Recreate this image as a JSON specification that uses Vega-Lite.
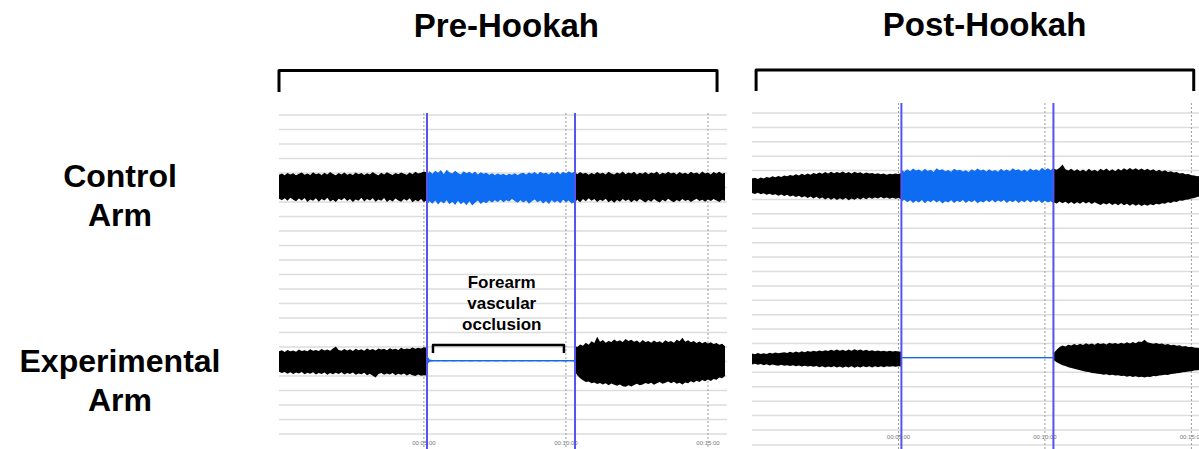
{
  "$schema": "https://vega.github.io/schema/vega-lite/v6.json",
  "padding": 0,
  "spacing": 25,
  "bounds": "flush",
  "background": "white",
  "config": {"view": {"stroke": null}, "font": "Liberation Sans"},
  "datasets": {
    "pre": [
      {"sg":"a","t":-0.1,"ch":17.88,"cl":16.22,"eh":5.7,"el":4.3},
      {"sg":"a","t":0.0,"ch":17.96,"cl":16.12,"eh":5.78,"el":4.2},
      {"sg":"a","t":0.1,"ch":17.85,"cl":16.26,"eh":5.66,"el":4.28},
      {"sg":"a","t":0.2,"ch":18.0,"cl":16.08,"eh":5.8,"el":4.16},
      {"sg":"a","t":0.3,"ch":17.9,"cl":16.3,"eh":5.7,"el":4.26},
      {"sg":"a","t":0.4,"ch":17.98,"cl":16.15,"eh":5.76,"el":4.14},
      {"sg":"a","t":0.5,"ch":17.84,"cl":16.05,"eh":5.68,"el":4.24},
      {"sg":"a","t":0.6,"ch":17.95,"cl":16.24,"eh":5.82,"el":4.18},
      {"sg":"a","t":0.7,"ch":18.04,"cl":16.1,"eh":5.72,"el":4.28},
      {"sg":"a","t":0.8,"ch":17.88,"cl":16.28,"eh":5.78,"el":4.12},
      {"sg":"a","t":0.9,"ch":17.97,"cl":16.0,"eh":5.7,"el":4.22},
      {"sg":"a","t":1.0,"ch":17.86,"cl":16.18,"eh":5.84,"el":4.16},
      {"sg":"a","t":1.1,"ch":18.05,"cl":16.08,"eh":5.74,"el":4.26},
      {"sg":"a","t":1.2,"ch":17.92,"cl":16.26,"eh":5.8,"el":4.1},
      {"sg":"a","t":1.3,"ch":17.99,"cl":16.02,"eh":5.72,"el":4.2},
      {"sg":"a","t":1.4,"ch":17.87,"cl":16.2,"eh":5.86,"el":4.14},
      {"sg":"a","t":1.5,"ch":18.02,"cl":16.1,"eh":5.76,"el":4.24},
      {"sg":"a","t":1.6,"ch":17.9,"cl":16.3,"eh":5.82,"el":4.08},
      {"sg":"a","t":1.7,"ch":18.06,"cl":16.04,"eh":5.74,"el":4.2},
      {"sg":"a","t":1.8,"ch":17.93,"cl":16.16,"eh":5.9,"el":4.12},
      {"sg":"a","t":1.9,"ch":17.85,"cl":16.0,"eh":6.04,"el":4.22},
      {"sg":"a","t":2.0,"ch":18.0,"cl":16.22,"eh":5.8,"el":4.14},
      {"sg":"a","t":2.1,"ch":17.9,"cl":16.12,"eh":5.74,"el":4.26},
      {"sg":"a","t":2.2,"ch":18.03,"cl":16.28,"eh":5.86,"el":4.1},
      {"sg":"a","t":2.3,"ch":17.88,"cl":16.06,"eh":5.76,"el":4.2},
      {"sg":"a","t":2.4,"ch":17.97,"cl":16.2,"eh":5.84,"el":4.14},
      {"sg":"a","t":2.5,"ch":17.86,"cl":16.0,"eh":5.72,"el":4.24},
      {"sg":"a","t":2.6,"ch":18.04,"cl":16.18,"eh":5.88,"el":4.08},
      {"sg":"a","t":2.7,"ch":17.92,"cl":16.08,"eh":5.78,"el":4.18},
      {"sg":"a","t":2.8,"ch":18.0,"cl":16.3,"eh":5.84,"el":4.12},
      {"sg":"a","t":2.9,"ch":17.87,"cl":16.04,"eh":5.74,"el":4.22},
      {"sg":"a","t":3.0,"ch":17.98,"cl":16.2,"eh":5.9,"el":4.06},
      {"sg":"a","t":3.1,"ch":17.9,"cl":16.1,"eh":5.8,"el":4.16},
      {"sg":"a","t":3.2,"ch":18.06,"cl":16.26,"eh":5.86,"el":4.02},
      {"sg":"a","t":3.3,"ch":17.93,"cl":16.02,"eh":5.76,"el":3.9},
      {"sg":"a","t":3.4,"ch":17.85,"cl":16.18,"eh":5.9,"el":4.14},
      {"sg":"a","t":3.5,"ch":18.02,"cl":16.08,"eh":5.82,"el":4.2},
      {"sg":"a","t":3.6,"ch":17.9,"cl":16.28,"eh":5.88,"el":4.08},
      {"sg":"a","t":3.7,"ch":18.05,"cl":16.0,"eh":5.78,"el":4.18},
      {"sg":"a","t":3.8,"ch":17.94,"cl":16.15,"eh":5.92,"el":4.1},
      {"sg":"a","t":3.9,"ch":17.86,"cl":16.04,"eh":5.82,"el":4.2},
      {"sg":"a","t":4.0,"ch":18.0,"cl":16.24,"eh":5.88,"el":4.06},
      {"sg":"a","t":4.1,"ch":17.91,"cl":16.1,"eh":5.8,"el":4.16},
      {"sg":"a","t":4.2,"ch":18.04,"cl":16.02,"eh":5.94,"el":4.08},
      {"sg":"a","t":4.3,"ch":17.95,"cl":16.2,"eh":5.84,"el":4.18},
      {"sg":"a","t":4.4,"ch":17.88,"cl":16.08,"eh":5.9,"el":4.04},
      {"sg":"a","t":4.5,"ch":18.03,"cl":16.26,"eh":5.86,"el":4.14},
      {"sg":"a","t":4.6,"ch":17.92,"cl":15.98,"eh":5.96,"el":4.06},
      {"sg":"a","t":4.7,"ch":18.08,"cl":16.14,"eh":5.88,"el":4.0},
      {"sg":"a","t":4.8,"ch":17.96,"cl":16.04,"eh":5.94,"el":4.1},
      {"sg":"a","t":4.9,"ch":18.02,"cl":16.2,"eh":5.9,"el":4.02},
      {"sg":"a","t":5.0,"ch":18.1,"cl":16.0,"eh":5.98,"el":4.06},
      {"sg":"a","t":5.1,"ch":18.05,"cl":16.12,"eh":5.94,"el":4.04},
      {"sg":"a","t":5.11,"ch":18.08,"cl":16.05,"eh":5.92,"el":4.06},
      {"sg":"b","t":5.11,"ch":18.1,"cl":16.0,"eh":5.08,"el":4.98},
      {"sg":"b","t":5.15,"ch":18.0,"cl":15.92,"eh":5.3,"el":4.88},
      {"sg":"b","t":5.2,"ch":18.12,"cl":16.05,"eh":5.14,"el":4.98},
      {"sg":"b","t":5.3,"ch":17.95,"cl":15.88,"eh":5.1,"el":5.0},
      {"sg":"b","t":5.4,"ch":18.15,"cl":16.1,"eh":5.1,"el":5.01},
      {"sg":"b","t":5.5,"ch":18.02,"cl":15.82,"eh":5.1,"el":5.0},
      {"sg":"b","t":5.6,"ch":18.2,"cl":16.05,"eh":5.1,"el":5.01},
      {"sg":"b","t":5.7,"ch":17.92,"cl":15.9,"eh":5.1,"el":5.0},
      {"sg":"b","t":5.8,"ch":18.22,"cl":16.12,"eh":5.1,"el":5.0},
      {"sg":"b","t":5.9,"ch":18.05,"cl":15.85,"eh":5.11,"el":5.01},
      {"sg":"b","t":6.0,"ch":17.96,"cl":16.02,"eh":5.1,"el":5.0},
      {"sg":"b","t":6.1,"ch":18.16,"cl":15.8,"eh":5.1,"el":5.0},
      {"sg":"b","t":6.2,"ch":18.0,"cl":16.08,"eh":5.1,"el":5.01},
      {"sg":"b","t":6.3,"ch":17.9,"cl":15.84,"eh":5.1,"el":5.0},
      {"sg":"b","t":6.4,"ch":18.12,"cl":16.0,"eh":5.1,"el":5.0},
      {"sg":"b","t":6.5,"ch":17.98,"cl":15.78,"eh":5.11,"el":5.01},
      {"sg":"b","t":6.6,"ch":18.08,"cl":16.05,"eh":5.1,"el":5.0},
      {"sg":"b","t":6.7,"ch":17.94,"cl":15.76,"eh":5.1,"el":5.0},
      {"sg":"b","t":6.8,"ch":18.1,"cl":15.95,"eh":5.1,"el":5.01},
      {"sg":"b","t":6.9,"ch":17.9,"cl":16.1,"eh":5.1,"el":5.0},
      {"sg":"b","t":7.0,"ch":18.05,"cl":15.86,"eh":5.1,"el":5.0},
      {"sg":"b","t":7.1,"ch":17.95,"cl":16.02,"eh":5.11,"el":5.01},
      {"sg":"b","t":7.2,"ch":18.02,"cl":15.92,"eh":5.1,"el":5.0},
      {"sg":"b","t":7.3,"ch":17.88,"cl":16.1,"eh":5.1,"el":5.0},
      {"sg":"b","t":7.4,"ch":17.98,"cl":15.96,"eh":5.1,"el":5.01},
      {"sg":"b","t":7.5,"ch":17.86,"cl":16.12,"eh":5.1,"el":5.0},
      {"sg":"b","t":7.6,"ch":17.96,"cl":16.0,"eh":5.1,"el":5.0},
      {"sg":"b","t":7.7,"ch":17.88,"cl":16.15,"eh":5.11,"el":5.01},
      {"sg":"b","t":7.8,"ch":17.95,"cl":15.98,"eh":5.1,"el":5.0},
      {"sg":"b","t":7.9,"ch":17.85,"cl":16.12,"eh":5.1,"el":5.0},
      {"sg":"b","t":8.0,"ch":17.94,"cl":16.04,"eh":5.1,"el":5.01},
      {"sg":"b","t":8.1,"ch":17.88,"cl":16.2,"eh":5.1,"el":5.0},
      {"sg":"b","t":8.2,"ch":17.98,"cl":16.06,"eh":5.1,"el":5.0},
      {"sg":"b","t":8.3,"ch":17.87,"cl":15.94,"eh":5.11,"el":5.01},
      {"sg":"b","t":8.4,"ch":17.96,"cl":16.12,"eh":5.1,"el":5.0},
      {"sg":"b","t":8.5,"ch":18.02,"cl":15.96,"eh":5.1,"el":5.0},
      {"sg":"b","t":8.6,"ch":17.9,"cl":16.1,"eh":5.1,"el":5.01},
      {"sg":"b","t":8.7,"ch":18.04,"cl":15.88,"eh":5.1,"el":5.0},
      {"sg":"b","t":8.8,"ch":17.94,"cl":16.05,"eh":5.1,"el":5.0},
      {"sg":"b","t":8.9,"ch":18.06,"cl":16.18,"eh":5.11,"el":5.01},
      {"sg":"b","t":9.0,"ch":17.92,"cl":15.98,"eh":5.1,"el":5.0},
      {"sg":"b","t":9.1,"ch":18.08,"cl":16.1,"eh":5.1,"el":5.0},
      {"sg":"b","t":9.2,"ch":17.96,"cl":15.9,"eh":5.1,"el":5.01},
      {"sg":"b","t":9.3,"ch":18.02,"cl":16.06,"eh":5.1,"el":5.0},
      {"sg":"b","t":9.4,"ch":17.9,"cl":15.86,"eh":5.1,"el":5.0},
      {"sg":"b","t":9.5,"ch":18.06,"cl":16.12,"eh":5.11,"el":5.01},
      {"sg":"b","t":9.6,"ch":17.95,"cl":15.96,"eh":5.1,"el":5.0},
      {"sg":"b","t":9.7,"ch":18.1,"cl":16.08,"eh":5.1,"el":5.0},
      {"sg":"b","t":9.8,"ch":17.92,"cl":15.92,"eh":5.1,"el":5.01},
      {"sg":"b","t":9.9,"ch":18.08,"cl":16.15,"eh":5.1,"el":5.0},
      {"sg":"b","t":10.0,"ch":17.96,"cl":15.98,"eh":5.1,"el":5.0},
      {"sg":"b","t":10.1,"ch":18.12,"cl":16.1,"eh":5.1,"el":5.01},
      {"sg":"b","t":10.2,"ch":18.0,"cl":15.9,"eh":5.1,"el":5.0},
      {"sg":"b","t":10.32,"ch":18.1,"cl":16.0,"eh":5.1,"el":5.0},
      {"sg":"c","t":10.32,"ch":18.05,"cl":16.0,"eh":6.05,"el":4.3},
      {"sg":"c","t":10.4,"ch":17.92,"cl":16.15,"eh":6.0,"el":4.05},
      {"sg":"c","t":10.5,"ch":18.06,"cl":15.98,"eh":6.18,"el":3.85},
      {"sg":"c","t":10.6,"ch":17.94,"cl":16.2,"eh":6.08,"el":3.7},
      {"sg":"c","t":10.7,"ch":18.02,"cl":16.05,"eh":6.3,"el":3.58},
      {"sg":"c","t":10.8,"ch":17.88,"cl":16.25,"eh":6.16,"el":3.62},
      {"sg":"c","t":10.9,"ch":18.0,"cl":16.08,"eh":6.4,"el":3.5},
      {"sg":"c","t":11.0,"ch":17.92,"cl":16.2,"eh":6.28,"el":3.56},
      {"sg":"c","t":11.1,"ch":18.06,"cl":16.0,"eh":6.7,"el":3.44},
      {"sg":"c","t":11.2,"ch":17.94,"cl":16.16,"eh":6.36,"el":3.52},
      {"sg":"c","t":11.3,"ch":18.02,"cl":16.06,"eh":6.48,"el":3.42},
      {"sg":"c","t":11.4,"ch":17.9,"cl":16.22,"eh":6.3,"el":3.5},
      {"sg":"c","t":11.5,"ch":18.08,"cl":15.98,"eh":6.42,"el":3.36},
      {"sg":"c","t":11.6,"ch":17.96,"cl":16.12,"eh":6.34,"el":3.48},
      {"sg":"c","t":11.7,"ch":17.9,"cl":15.94,"eh":6.52,"el":3.4},
      {"sg":"c","t":11.8,"ch":18.04,"cl":16.14,"eh":6.38,"el":3.32},
      {"sg":"c","t":11.9,"ch":17.95,"cl":16.02,"eh":6.46,"el":3.42},
      {"sg":"c","t":12.0,"ch":18.1,"cl":16.2,"eh":6.34,"el":3.3},
      {"sg":"c","t":12.1,"ch":17.92,"cl":16.06,"eh":6.56,"el":3.26},
      {"sg":"c","t":12.2,"ch":18.04,"cl":16.18,"eh":6.42,"el":3.36},
      {"sg":"c","t":12.3,"ch":17.96,"cl":15.98,"eh":6.5,"el":3.28},
      {"sg":"c","t":12.4,"ch":18.08,"cl":16.14,"eh":6.36,"el":3.38},
      {"sg":"c","t":12.5,"ch":17.9,"cl":16.04,"eh":6.44,"el":3.46},
      {"sg":"c","t":12.6,"ch":18.02,"cl":16.2,"eh":6.3,"el":3.36},
      {"sg":"c","t":12.7,"ch":17.94,"cl":16.08,"eh":6.48,"el":3.42},
      {"sg":"c","t":12.8,"ch":18.06,"cl":15.96,"eh":6.34,"el":3.52},
      {"sg":"c","t":12.9,"ch":17.92,"cl":16.14,"eh":6.42,"el":3.44},
      {"sg":"c","t":13.0,"ch":18.04,"cl":16.02,"eh":6.3,"el":3.54},
      {"sg":"c","t":13.1,"ch":17.96,"cl":16.2,"eh":6.44,"el":3.4},
      {"sg":"c","t":13.2,"ch":18.1,"cl":16.06,"eh":6.32,"el":3.5},
      {"sg":"c","t":13.3,"ch":17.9,"cl":15.96,"eh":6.4,"el":3.58},
      {"sg":"c","t":13.4,"ch":18.02,"cl":16.16,"eh":6.28,"el":3.46},
      {"sg":"c","t":13.5,"ch":17.94,"cl":16.04,"eh":6.46,"el":3.54},
      {"sg":"c","t":13.6,"ch":18.08,"cl":16.22,"eh":6.34,"el":3.62},
      {"sg":"c","t":13.7,"ch":17.96,"cl":16.08,"eh":6.42,"el":3.5},
      {"sg":"c","t":13.8,"ch":18.04,"cl":15.98,"eh":6.3,"el":3.6},
      {"sg":"c","t":13.9,"ch":17.9,"cl":16.14,"eh":6.5,"el":3.46},
      {"sg":"c","t":14.0,"ch":18.06,"cl":16.04,"eh":6.4,"el":3.54},
      {"sg":"c","t":14.1,"ch":17.94,"cl":16.2,"eh":6.64,"el":3.42},
      {"sg":"c","t":14.2,"ch":18.02,"cl":16.06,"eh":6.36,"el":3.56},
      {"sg":"c","t":14.3,"ch":17.92,"cl":16.16,"eh":6.46,"el":3.5},
      {"sg":"c","t":14.4,"ch":18.08,"cl":16.0,"eh":6.32,"el":3.64},
      {"sg":"c","t":14.5,"ch":17.96,"cl":16.12,"eh":6.42,"el":3.56},
      {"sg":"c","t":14.6,"ch":18.04,"cl":16.22,"eh":6.28,"el":3.68},
      {"sg":"c","t":14.7,"ch":17.92,"cl":16.06,"eh":6.38,"el":3.58},
      {"sg":"c","t":14.8,"ch":18.1,"cl":16.16,"eh":6.26,"el":3.72},
      {"sg":"c","t":14.9,"ch":17.96,"cl":16.02,"eh":6.36,"el":3.64},
      {"sg":"c","t":15.0,"ch":18.04,"cl":16.18,"eh":6.24,"el":3.76},
      {"sg":"c","t":15.1,"ch":17.9,"cl":16.06,"eh":6.32,"el":3.66},
      {"sg":"c","t":15.2,"ch":18.06,"cl":16.2,"eh":6.2,"el":3.8},
      {"sg":"c","t":15.3,"ch":17.96,"cl":16.1,"eh":6.28,"el":3.74},
      {"sg":"c","t":15.4,"ch":18.08,"cl":16.0,"eh":6.16,"el":3.9},
      {"sg":"c","t":15.5,"ch":17.94,"cl":16.16,"eh":6.22,"el":3.84},
      {"sg":"c","t":15.6,"ch":18.02,"cl":16.08,"eh":6.06,"el":4.0}
    ],
    "post": [
      {"sg":"a","t":0.0,"ch":17.45,"cl":16.45,"eh":5.3,"el":4.55},
      {"sg":"a","t":0.1,"ch":17.5,"cl":16.38,"eh":5.26,"el":4.6},
      {"sg":"a","t":0.2,"ch":17.42,"cl":16.46,"eh":5.34,"el":4.52},
      {"sg":"a","t":0.3,"ch":17.52,"cl":16.36,"eh":5.28,"el":4.58},
      {"sg":"a","t":0.4,"ch":17.46,"cl":16.42,"eh":5.32,"el":4.5},
      {"sg":"a","t":0.5,"ch":17.56,"cl":16.32,"eh":5.27,"el":4.56},
      {"sg":"a","t":0.6,"ch":17.5,"cl":16.4,"eh":5.36,"el":4.48},
      {"sg":"a","t":0.7,"ch":17.6,"cl":16.3,"eh":5.3,"el":4.54},
      {"sg":"a","t":0.8,"ch":17.54,"cl":16.36,"eh":5.38,"el":4.5},
      {"sg":"a","t":0.9,"ch":17.62,"cl":16.26,"eh":5.32,"el":4.46},
      {"sg":"a","t":1.0,"ch":17.56,"cl":16.34,"eh":5.36,"el":4.52},
      {"sg":"a","t":1.1,"ch":17.66,"cl":16.24,"eh":5.4,"el":4.46},
      {"sg":"a","t":1.2,"ch":17.6,"cl":16.32,"eh":5.34,"el":4.5},
      {"sg":"a","t":1.3,"ch":17.7,"cl":16.2,"eh":5.42,"el":4.44},
      {"sg":"a","t":1.4,"ch":17.64,"cl":16.28,"eh":5.36,"el":4.5},
      {"sg":"a","t":1.5,"ch":17.74,"cl":16.16,"eh":5.44,"el":4.42},
      {"sg":"a","t":1.6,"ch":17.66,"cl":16.26,"eh":5.38,"el":4.48},
      {"sg":"a","t":1.7,"ch":17.78,"cl":16.14,"eh":5.46,"el":4.4},
      {"sg":"a","t":1.8,"ch":17.7,"cl":16.22,"eh":5.4,"el":4.46},
      {"sg":"a","t":1.9,"ch":17.8,"cl":16.1,"eh":5.48,"el":4.4},
      {"sg":"a","t":2.0,"ch":17.72,"cl":16.2,"eh":5.42,"el":4.44},
      {"sg":"a","t":2.1,"ch":17.84,"cl":16.06,"eh":5.5,"el":4.38},
      {"sg":"a","t":2.2,"ch":17.76,"cl":16.18,"eh":5.44,"el":4.44},
      {"sg":"a","t":2.3,"ch":17.86,"cl":16.04,"eh":5.52,"el":4.36},
      {"sg":"a","t":2.4,"ch":17.78,"cl":16.14,"eh":5.46,"el":4.42},
      {"sg":"a","t":2.5,"ch":17.9,"cl":16.0,"eh":5.54,"el":4.34},
      {"sg":"a","t":2.6,"ch":17.8,"cl":16.12,"eh":5.48,"el":4.4},
      {"sg":"a","t":2.7,"ch":17.92,"cl":15.98,"eh":5.56,"el":4.36},
      {"sg":"a","t":2.8,"ch":17.82,"cl":16.1,"eh":5.5,"el":4.42},
      {"sg":"a","t":2.9,"ch":17.9,"cl":15.96,"eh":5.58,"el":4.34},
      {"sg":"a","t":3.0,"ch":17.84,"cl":16.08,"eh":5.5,"el":4.4},
      {"sg":"a","t":3.1,"ch":17.94,"cl":15.98,"eh":5.56,"el":4.32},
      {"sg":"a","t":3.2,"ch":17.82,"cl":16.1,"eh":5.48,"el":4.4},
      {"sg":"a","t":3.3,"ch":17.9,"cl":15.94,"eh":5.58,"el":4.34},
      {"sg":"a","t":3.4,"ch":17.8,"cl":16.06,"eh":5.5,"el":4.42},
      {"sg":"a","t":3.5,"ch":17.92,"cl":15.98,"eh":5.6,"el":4.32},
      {"sg":"a","t":3.6,"ch":17.84,"cl":16.1,"eh":5.52,"el":4.4},
      {"sg":"a","t":3.7,"ch":17.88,"cl":16.0,"eh":5.58,"el":4.34},
      {"sg":"a","t":3.8,"ch":17.78,"cl":16.12,"eh":5.5,"el":4.42},
      {"sg":"a","t":3.9,"ch":17.86,"cl":16.02,"eh":5.56,"el":4.36},
      {"sg":"a","t":4.0,"ch":17.8,"cl":16.14,"eh":5.48,"el":4.42},
      {"sg":"a","t":4.1,"ch":17.84,"cl":16.04,"eh":5.54,"el":4.34},
      {"sg":"a","t":4.2,"ch":17.76,"cl":16.14,"eh":5.46,"el":4.42},
      {"sg":"a","t":4.3,"ch":17.82,"cl":16.06,"eh":5.52,"el":4.36},
      {"sg":"a","t":4.4,"ch":17.74,"cl":16.16,"eh":5.46,"el":4.42},
      {"sg":"a","t":4.5,"ch":17.8,"cl":16.06,"eh":5.5,"el":4.36},
      {"sg":"a","t":4.6,"ch":17.72,"cl":16.14,"eh":5.44,"el":4.42},
      {"sg":"a","t":4.7,"ch":17.78,"cl":16.04,"eh":5.5,"el":4.38},
      {"sg":"a","t":4.8,"ch":17.74,"cl":16.12,"eh":5.44,"el":4.42},
      {"sg":"a","t":4.9,"ch":17.8,"cl":16.04,"eh":5.48,"el":4.38},
      {"sg":"a","t":5.0,"ch":17.76,"cl":16.1,"eh":5.44,"el":4.42},
      {"sg":"a","t":5.1,"ch":17.84,"cl":16.02,"eh":5.42,"el":4.4},
      {"sg":"b","t":5.1,"ch":18.05,"cl":15.85,"eh":5.07,"el":4.98},
      {"sg":"b","t":5.2,"ch":17.92,"cl":15.98,"eh":5.07,"el":4.98},
      {"sg":"b","t":5.3,"ch":18.1,"cl":15.8,"eh":5.07,"el":4.98},
      {"sg":"b","t":5.4,"ch":17.96,"cl":15.94,"eh":5.07,"el":4.98},
      {"sg":"b","t":5.5,"ch":18.14,"cl":15.76,"eh":5.07,"el":4.98},
      {"sg":"b","t":5.6,"ch":18.0,"cl":15.9,"eh":5.07,"el":4.98},
      {"sg":"b","t":5.7,"ch":18.08,"cl":15.78,"eh":5.07,"el":4.98},
      {"sg":"b","t":5.8,"ch":17.94,"cl":15.96,"eh":5.07,"el":4.98},
      {"sg":"b","t":5.9,"ch":18.12,"cl":15.74,"eh":5.07,"el":4.98},
      {"sg":"b","t":6.0,"ch":17.98,"cl":15.9,"eh":5.07,"el":4.98},
      {"sg":"b","t":6.1,"ch":18.06,"cl":15.8,"eh":5.07,"el":4.98},
      {"sg":"b","t":6.2,"ch":17.9,"cl":15.96,"eh":5.07,"el":4.98},
      {"sg":"b","t":6.3,"ch":18.16,"cl":15.78,"eh":5.07,"el":4.98},
      {"sg":"b","t":6.4,"ch":18.02,"cl":15.92,"eh":5.07,"el":4.98},
      {"sg":"b","t":6.5,"ch":18.1,"cl":15.72,"eh":5.07,"el":4.98},
      {"sg":"b","t":6.6,"ch":17.96,"cl":15.88,"eh":5.07,"el":4.98},
      {"sg":"b","t":6.7,"ch":18.04,"cl":15.78,"eh":5.07,"el":4.98},
      {"sg":"b","t":6.8,"ch":17.92,"cl":15.94,"eh":5.07,"el":4.98},
      {"sg":"b","t":6.9,"ch":18.12,"cl":15.76,"eh":5.07,"el":4.98},
      {"sg":"b","t":7.0,"ch":18.0,"cl":15.9,"eh":5.07,"el":4.98},
      {"sg":"b","t":7.1,"ch":18.06,"cl":15.8,"eh":5.07,"el":4.98},
      {"sg":"b","t":7.2,"ch":17.94,"cl":15.96,"eh":5.07,"el":4.98},
      {"sg":"b","t":7.3,"ch":18.02,"cl":15.76,"eh":5.07,"el":4.98},
      {"sg":"b","t":7.4,"ch":17.9,"cl":15.9,"eh":5.07,"el":4.98},
      {"sg":"b","t":7.5,"ch":18.1,"cl":15.8,"eh":5.07,"el":4.98},
      {"sg":"b","t":7.6,"ch":17.98,"cl":15.94,"eh":5.07,"el":4.98},
      {"sg":"b","t":7.7,"ch":18.14,"cl":15.74,"eh":5.07,"el":4.98},
      {"sg":"b","t":7.8,"ch":18.0,"cl":15.88,"eh":5.07,"el":4.98},
      {"sg":"b","t":7.9,"ch":18.08,"cl":15.78,"eh":5.07,"el":4.98},
      {"sg":"b","t":8.0,"ch":17.94,"cl":15.94,"eh":5.07,"el":4.98},
      {"sg":"b","t":8.1,"ch":18.1,"cl":15.8,"eh":5.07,"el":4.98},
      {"sg":"b","t":8.2,"ch":17.96,"cl":15.96,"eh":5.07,"el":4.98},
      {"sg":"b","t":8.3,"ch":18.04,"cl":15.78,"eh":5.07,"el":4.98},
      {"sg":"b","t":8.4,"ch":17.92,"cl":15.92,"eh":5.07,"el":4.98},
      {"sg":"b","t":8.5,"ch":18.12,"cl":15.82,"eh":5.07,"el":4.98},
      {"sg":"b","t":8.6,"ch":17.98,"cl":15.96,"eh":5.07,"el":4.98},
      {"sg":"b","t":8.7,"ch":18.08,"cl":15.76,"eh":5.07,"el":4.98},
      {"sg":"b","t":8.8,"ch":17.96,"cl":15.9,"eh":5.07,"el":4.98},
      {"sg":"b","t":8.9,"ch":18.16,"cl":15.8,"eh":5.07,"el":4.98},
      {"sg":"b","t":9.0,"ch":18.02,"cl":15.94,"eh":5.07,"el":4.98},
      {"sg":"b","t":9.1,"ch":18.1,"cl":15.76,"eh":5.07,"el":4.98},
      {"sg":"b","t":9.2,"ch":17.96,"cl":15.9,"eh":5.07,"el":4.98},
      {"sg":"b","t":9.3,"ch":18.08,"cl":15.8,"eh":5.07,"el":4.98},
      {"sg":"b","t":9.4,"ch":17.94,"cl":15.96,"eh":5.07,"el":4.98},
      {"sg":"b","t":9.5,"ch":18.14,"cl":15.78,"eh":5.07,"el":4.98},
      {"sg":"b","t":9.6,"ch":18.0,"cl":15.92,"eh":5.07,"el":4.98},
      {"sg":"b","t":9.7,"ch":18.1,"cl":15.8,"eh":5.07,"el":4.98},
      {"sg":"b","t":9.8,"ch":17.98,"cl":15.94,"eh":5.07,"el":4.98},
      {"sg":"b","t":9.9,"ch":18.2,"cl":15.74,"eh":5.07,"el":4.98},
      {"sg":"b","t":10.0,"ch":18.04,"cl":15.9,"eh":5.07,"el":4.98},
      {"sg":"b","t":10.1,"ch":18.16,"cl":15.78,"eh":5.07,"el":4.98},
      {"sg":"b","t":10.2,"ch":18.02,"cl":15.88,"eh":5.07,"el":4.98},
      {"sg":"b","t":10.29,"ch":18.22,"cl":15.74,"eh":5.07,"el":4.98},
      {"sg":"c","t":10.29,"ch":18.15,"cl":15.8,"eh":5.3,"el":4.85},
      {"sg":"c","t":10.4,"ch":18.06,"cl":15.72,"eh":5.56,"el":4.7},
      {"sg":"c","t":10.5,"ch":18.2,"cl":15.86,"eh":5.76,"el":4.6},
      {"sg":"c","t":10.6,"ch":18.42,"cl":15.74,"eh":5.86,"el":4.5},
      {"sg":"c","t":10.7,"ch":18.1,"cl":15.84,"eh":5.8,"el":4.44},
      {"sg":"c","t":10.8,"ch":18.0,"cl":15.7,"eh":5.92,"el":4.36},
      {"sg":"c","t":10.9,"ch":18.12,"cl":15.82,"eh":5.86,"el":4.3},
      {"sg":"c","t":11.0,"ch":17.98,"cl":15.68,"eh":5.96,"el":4.24},
      {"sg":"c","t":11.1,"ch":18.1,"cl":15.8,"eh":5.88,"el":4.2},
      {"sg":"c","t":11.2,"ch":17.96,"cl":15.7,"eh":5.98,"el":4.14},
      {"sg":"c","t":11.3,"ch":18.08,"cl":15.84,"eh":5.9,"el":4.1},
      {"sg":"c","t":11.4,"ch":17.94,"cl":15.72,"eh":6.02,"el":4.04},
      {"sg":"c","t":11.5,"ch":18.12,"cl":15.82,"eh":5.94,"el":4.02},
      {"sg":"c","t":11.6,"ch":17.98,"cl":15.68,"eh":6.0,"el":3.96},
      {"sg":"c","t":11.7,"ch":18.06,"cl":15.8,"eh":5.92,"el":3.94},
      {"sg":"c","t":11.8,"ch":17.94,"cl":15.7,"eh":6.04,"el":3.9},
      {"sg":"c","t":11.9,"ch":18.12,"cl":15.62,"eh":5.96,"el":3.88},
      {"sg":"c","t":12.0,"ch":18.0,"cl":15.74,"eh":6.02,"el":3.84},
      {"sg":"c","t":12.1,"ch":18.14,"cl":15.64,"eh":5.94,"el":3.86},
      {"sg":"c","t":12.2,"ch":17.98,"cl":15.76,"eh":6.06,"el":3.8},
      {"sg":"c","t":12.3,"ch":18.1,"cl":15.62,"eh":5.98,"el":3.84},
      {"sg":"c","t":12.4,"ch":17.96,"cl":15.72,"eh":6.04,"el":3.78},
      {"sg":"c","t":12.5,"ch":18.12,"cl":15.6,"eh":5.96,"el":3.8},
      {"sg":"c","t":12.6,"ch":18.0,"cl":15.74,"eh":6.06,"el":3.74},
      {"sg":"c","t":12.7,"ch":18.16,"cl":15.6,"eh":5.98,"el":3.76},
      {"sg":"c","t":12.8,"ch":18.04,"cl":15.7,"eh":6.08,"el":3.7},
      {"sg":"c","t":12.9,"ch":18.18,"cl":15.56,"eh":6.0,"el":3.74},
      {"sg":"c","t":13.0,"ch":18.06,"cl":15.68,"eh":6.1,"el":3.68},
      {"sg":"c","t":13.1,"ch":18.16,"cl":15.56,"eh":6.02,"el":3.72},
      {"sg":"c","t":13.2,"ch":18.04,"cl":15.66,"eh":6.14,"el":3.66},
      {"sg":"c","t":13.3,"ch":18.14,"cl":15.54,"eh":6.1,"el":3.7},
      {"sg":"c","t":13.4,"ch":18.02,"cl":15.64,"eh":6.26,"el":3.64},
      {"sg":"c","t":13.5,"ch":18.12,"cl":15.56,"eh":6.08,"el":3.7},
      {"sg":"c","t":13.6,"ch":18.0,"cl":15.66,"eh":6.04,"el":3.68},
      {"sg":"c","t":13.7,"ch":18.1,"cl":15.6,"eh":5.98,"el":3.74},
      {"sg":"c","t":13.8,"ch":17.96,"cl":15.7,"eh":6.04,"el":3.72},
      {"sg":"c","t":13.9,"ch":18.06,"cl":15.64,"eh":5.96,"el":3.78},
      {"sg":"c","t":14.0,"ch":17.94,"cl":15.74,"eh":6.0,"el":3.8},
      {"sg":"c","t":14.1,"ch":18.02,"cl":15.7,"eh":5.92,"el":3.84},
      {"sg":"c","t":14.2,"ch":17.9,"cl":15.8,"eh":5.96,"el":3.82},
      {"sg":"c","t":14.3,"ch":17.96,"cl":15.76,"eh":5.88,"el":3.88},
      {"sg":"c","t":14.4,"ch":17.86,"cl":15.86,"eh":5.92,"el":3.9},
      {"sg":"c","t":14.5,"ch":17.9,"cl":15.82,"eh":5.84,"el":3.94},
      {"sg":"c","t":14.6,"ch":17.8,"cl":15.92,"eh":5.88,"el":3.96},
      {"sg":"c","t":14.7,"ch":17.84,"cl":15.9,"eh":5.8,"el":4.0},
      {"sg":"c","t":14.8,"ch":17.74,"cl":15.98,"eh":5.82,"el":4.02},
      {"sg":"c","t":14.9,"ch":17.76,"cl":16.0,"eh":5.76,"el":4.06},
      {"sg":"c","t":15.0,"ch":17.68,"cl":16.06,"eh":5.78,"el":4.08},
      {"sg":"c","t":15.1,"ch":17.66,"cl":16.1,"eh":5.72,"el":4.12},
      {"sg":"c","t":15.2,"ch":17.6,"cl":16.16,"eh":5.7,"el":4.14},
      {"sg":"c","t":15.26,"ch":17.62,"cl":16.2,"eh":5.68,"el":4.16}
    ],
    "grid": [
      {"g":0},{"g":1},{"g":2},{"g":3},{"g":4},{"g":5},{"g":6},{"g":7},{"g":8},{"g":9},{"g":10},{"g":11},
      {"g":12},{"g":13},{"g":14},{"g":15},{"g":16},{"g":17},{"g":18},{"g":19},{"g":20},{"g":21},{"g":22}
    ]
  },
  "hconcat": [
    {
      "width": 254,
      "height": 434,
      "data": {"values": [
        {"lab": "Control\nArm", "y": 17.06},
        {"lab": "Experimental\nArm", "y": 4.3}
      ]},
      "mark": {"type": "text", "font": "Liberation Sans", "fontSize": 32, "fontWeight": "bold", "lineBreak": "\n", "lineHeight": 39, "baseline": "alphabetic", "align": "center", "dx": -7, "color": "#000000"},
      "encoding": {
        "y": {"field": "y", "type": "quantitative", "scale": {"domain": [0, 29.93]}, "axis": null},
        "text": {"field": "lab"}
      }
    },
    {
      "width": 448,
      "height": 434,
      "layer": [
        {
          "data": {"name": "grid"},
          "mark": {"type": "rule", "color": "#dddddd", "strokeWidth": 1.5},
          "encoding": {
            "y": {"field": "g", "type": "quantitative", "scale": {"domain": [0, 29.93]}, "axis": null}
          }
        },
        {
          "data": {"values": [{"t": 5, "a": 22.14, "b": -1.03}, {"t": 10, "a": 22.14, "b": -1.03}, {"t": 15, "a": 22.14, "b": -1.03}]},
          "mark": {"type": "rule", "color": "#9a9a9a", "strokeWidth": 1, "strokeDash": [2, 2]},
          "encoding": {
            "x": {"field": "t", "type": "quantitative", "scale": {"domain": [-0.1, 15.67]}, "axis": null},
            "y": {"field": "a", "type": "quantitative", "scale": {"domain": [0, 29.93]}, "axis": null},
            "y2": {"field": "b"}
          }
        },
        {
          "data": {"values": [{"t": 5, "y": -0.6, "lab": "00:05:00"}, {"t": 10, "y": -0.6, "lab": "00:10:00"}, {"t": 15, "y": -0.6, "lab": "00:15:00"}]},
          "mark": {"type": "text", "font": "Liberation Sans", "fontSize": 6, "color": "#777777", "baseline": "middle", "align": "center"},
          "encoding": {
            "x": {"field": "t", "type": "quantitative", "scale": {"domain": [-0.1, 15.67]}, "axis": null},
            "y": {"field": "y", "type": "quantitative", "scale": {"domain": [0, 29.93]}, "axis": null},
            "text": {"field": "lab"}
          }
        },
        {
          "data": {"name": "pre"},
          "mark": {"type": "area", "interpolate": "linear"},
          "encoding": {
            "x": {"field": "t", "type": "quantitative", "scale": {"domain": [-0.1, 15.67]}, "axis": null},
            "y": {"field": "ch", "type": "quantitative", "stack": null, "scale": {"domain": [0, 29.93]}, "axis": null},
            "y2": {"field": "cl"},
            "color": {"field": "sg", "type": "nominal", "scale": {"domain": ["a", "b", "c"], "range": ["#000000", "#0d6cf2", "#000000"]}, "legend": null}
          }
        },
        {
          "data": {"name": "pre"},
          "mark": {"type": "area", "interpolate": "linear"},
          "encoding": {
            "x": {"field": "t", "type": "quantitative", "scale": {"domain": [-0.1, 15.67]}, "axis": null},
            "y": {"field": "eh", "type": "quantitative", "stack": null, "scale": {"domain": [0, 29.93]}, "axis": null},
            "y2": {"field": "el"},
            "color": {"field": "sg", "type": "nominal", "scale": {"domain": ["a", "b", "c"], "range": ["#000000", "#0d6cf2", "#000000"]}, "legend": null}
          }
        },
        {
          "data": {"values": [{"t": 5.11, "a": 22.14, "b": -1.03}, {"t": 10.32, "a": 22.14, "b": -1.03}]},
          "mark": {"type": "rule", "color": "#5555ee", "strokeWidth": 2},
          "encoding": {
            "x": {"field": "t", "type": "quantitative", "scale": {"domain": [-0.1, 15.67]}, "axis": null},
            "y": {"field": "a", "type": "quantitative", "scale": {"domain": [0, 29.93]}, "axis": null},
            "y2": {"field": "b"}
          }
        },
        {
          "data": {"values": [
            {"o": 1, "t": -0.1, "y": 23.59},
            {"o": 2, "t": -0.1, "y": 25.07},
            {"o": 3, "t": 15.32, "y": 25.07},
            {"o": 4, "t": 15.32, "y": 23.59}
          ]},
          "mark": {"type": "line", "color": "#000000", "strokeWidth": 3, "strokeJoin": "round"},
          "encoding": {
            "x": {"field": "t", "type": "quantitative", "scale": {"domain": [-0.1, 15.67]}, "axis": null},
            "y": {"field": "y", "type": "quantitative", "scale": {"domain": [0, 29.93]}, "axis": null},
            "order": {"field": "o"}
          }
        },
        {
          "data": {"values": [
            {"o": 1, "t": 5.32, "y": 5.59},
            {"o": 2, "t": 5.32, "y": 6.14},
            {"o": 3, "t": 9.93, "y": 6.14},
            {"o": 4, "t": 9.93, "y": 5.59}
          ]},
          "mark": {"type": "line", "color": "#000000", "strokeWidth": 2.5, "strokeJoin": "round"},
          "encoding": {
            "x": {"field": "t", "type": "quantitative", "scale": {"domain": [-0.1, 15.67]}, "axis": null},
            "y": {"field": "y", "type": "quantitative", "scale": {"domain": [0, 29.93]}, "axis": null},
            "order": {"field": "o"}
          }
        },
        {
          "data": {"values": [{"t": 7.74, "y": 10.05, "lab": "Forearm\nvascular\nocclusion"}]},
          "mark": {"type": "text", "font": "Liberation Sans", "fontSize": 17, "fontWeight": "bold", "lineBreak": "\n", "lineHeight": 21, "baseline": "alphabetic", "align": "center", "color": "#000000"},
          "encoding": {
            "x": {"field": "t", "type": "quantitative", "scale": {"domain": [-0.1, 15.67]}, "axis": null},
            "y": {"field": "y", "type": "quantitative", "scale": {"domain": [0, 29.93]}, "axis": null},
            "text": {"field": "lab"}
          }
        },
        {
          "data": {"values": [{"t": 7.905, "y": 27.38, "lab": "Pre-Hookah"}]},
          "mark": {"type": "text", "font": "Liberation Sans", "fontSize": 33, "fontWeight": "bold", "baseline": "alphabetic", "align": "center", "color": "#000000"},
          "encoding": {
            "x": {"field": "t", "type": "quantitative", "scale": {"domain": [-0.1, 15.67]}, "axis": null},
            "y": {"field": "y", "type": "quantitative", "scale": {"domain": [0, 29.93]}, "axis": null},
            "text": {"field": "lab"}
          }
        }
      ]
    },
    {
      "width": 447,
      "height": 434,
      "layer": [
        {
          "data": {"values": [
            {"g":-1.04},{"g":0},{"g":1},{"g":2},{"g":3},{"g":4},{"g":5},{"g":6},{"g":7},{"g":8},{"g":9},{"g":10},{"g":11},
            {"g":12},{"g":13},{"g":14},{"g":15},{"g":16},{"g":17},{"g":18},{"g":19},{"g":20},{"g":21},{"g":22}
          ]},
          "mark": {"type": "rule", "color": "#dddddd", "strokeWidth": 1.5},
          "encoding": {
            "y": {"field": "g", "type": "quantitative", "scale": {"domain": [-0.28, 29.84]}, "axis": null}
          }
        },
        {
          "data": {"values": [{"t": 5, "a": 22.69, "b": -1.32}, {"t": 10, "a": 22.69, "b": -1.32}, {"t": 15, "a": 22.69, "b": -1.32}]},
          "mark": {"type": "rule", "color": "#9a9a9a", "strokeWidth": 1, "strokeDash": [2, 2]},
          "encoding": {
            "x": {"field": "t", "type": "quantitative", "scale": {"domain": [0, 15.26]}, "axis": null},
            "y": {"field": "a", "type": "quantitative", "scale": {"domain": [-0.28, 29.84]}, "axis": null},
            "y2": {"field": "b"}
          }
        },
        {
          "data": {"values": [{"t": 5, "y": -0.52, "lab": "00:05:00"}, {"t": 10, "y": -0.52, "lab": "00:10:00"}, {"t": 15, "y": -0.52, "lab": "00:15:00"}]},
          "mark": {"type": "text", "font": "Liberation Sans", "fontSize": 6, "color": "#777777", "baseline": "middle", "align": "center"},
          "encoding": {
            "x": {"field": "t", "type": "quantitative", "scale": {"domain": [0, 15.26]}, "axis": null},
            "y": {"field": "y", "type": "quantitative", "scale": {"domain": [-0.28, 29.84]}, "axis": null},
            "text": {"field": "lab"}
          }
        },
        {
          "data": {"name": "post"},
          "mark": {"type": "area", "interpolate": "linear"},
          "encoding": {
            "x": {"field": "t", "type": "quantitative", "scale": {"domain": [0, 15.26]}, "axis": null},
            "y": {"field": "ch", "type": "quantitative", "stack": null, "scale": {"domain": [-0.28, 29.84]}, "axis": null},
            "y2": {"field": "cl"},
            "color": {"field": "sg", "type": "nominal", "scale": {"domain": ["a", "b", "c"], "range": ["#000000", "#0d6cf2", "#000000"]}, "legend": null}
          }
        },
        {
          "data": {"name": "post"},
          "mark": {"type": "area", "interpolate": "linear"},
          "encoding": {
            "x": {"field": "t", "type": "quantitative", "scale": {"domain": [0, 15.26]}, "axis": null},
            "y": {"field": "eh", "type": "quantitative", "stack": null, "scale": {"domain": [-0.28, 29.84]}, "axis": null},
            "y2": {"field": "el"},
            "color": {"field": "sg", "type": "nominal", "scale": {"domain": ["a", "b", "c"], "range": ["#000000", "#0d6cf2", "#000000"]}, "legend": null}
          }
        },
        {
          "data": {"values": [{"t": 5.1, "a": 22.69, "b": -1.32}, {"t": 10.29, "a": 22.69, "b": -1.32}]},
          "mark": {"type": "rule", "color": "#5555ee", "strokeWidth": 2},
          "encoding": {
            "x": {"field": "t", "type": "quantitative", "scale": {"domain": [0, 15.26]}, "axis": null},
            "y": {"field": "a", "type": "quantitative", "scale": {"domain": [-0.28, 29.84]}, "axis": null},
            "y2": {"field": "b"}
          }
        },
        {
          "data": {"values": [
            {"o": 1, "t": 0.14, "y": 23.53},
            {"o": 2, "t": 0.14, "y": 24.98},
            {"o": 3, "t": 15.08, "y": 24.98},
            {"o": 4, "t": 15.08, "y": 23.53}
          ]},
          "mark": {"type": "line", "color": "#000000", "strokeWidth": 3, "strokeJoin": "round"},
          "encoding": {
            "x": {"field": "t", "type": "quantitative", "scale": {"domain": [0, 15.26]}, "axis": null},
            "y": {"field": "y", "type": "quantitative", "scale": {"domain": [-0.28, 29.84]}, "axis": null},
            "order": {"field": "o"}
          }
        },
        {
          "data": {"values": [{"t": 7.94, "y": 27.31, "lab": "Post-Hookah"}]},
          "mark": {"type": "text", "font": "Liberation Sans", "fontSize": 33, "fontWeight": "bold", "baseline": "alphabetic", "align": "center", "color": "#000000"},
          "encoding": {
            "x": {"field": "t", "type": "quantitative", "scale": {"domain": [0, 15.26]}, "axis": null},
            "y": {"field": "y", "type": "quantitative", "scale": {"domain": [-0.28, 29.84]}, "axis": null},
            "text": {"field": "lab"}
          }
        }
      ]
    }
  ]
}
